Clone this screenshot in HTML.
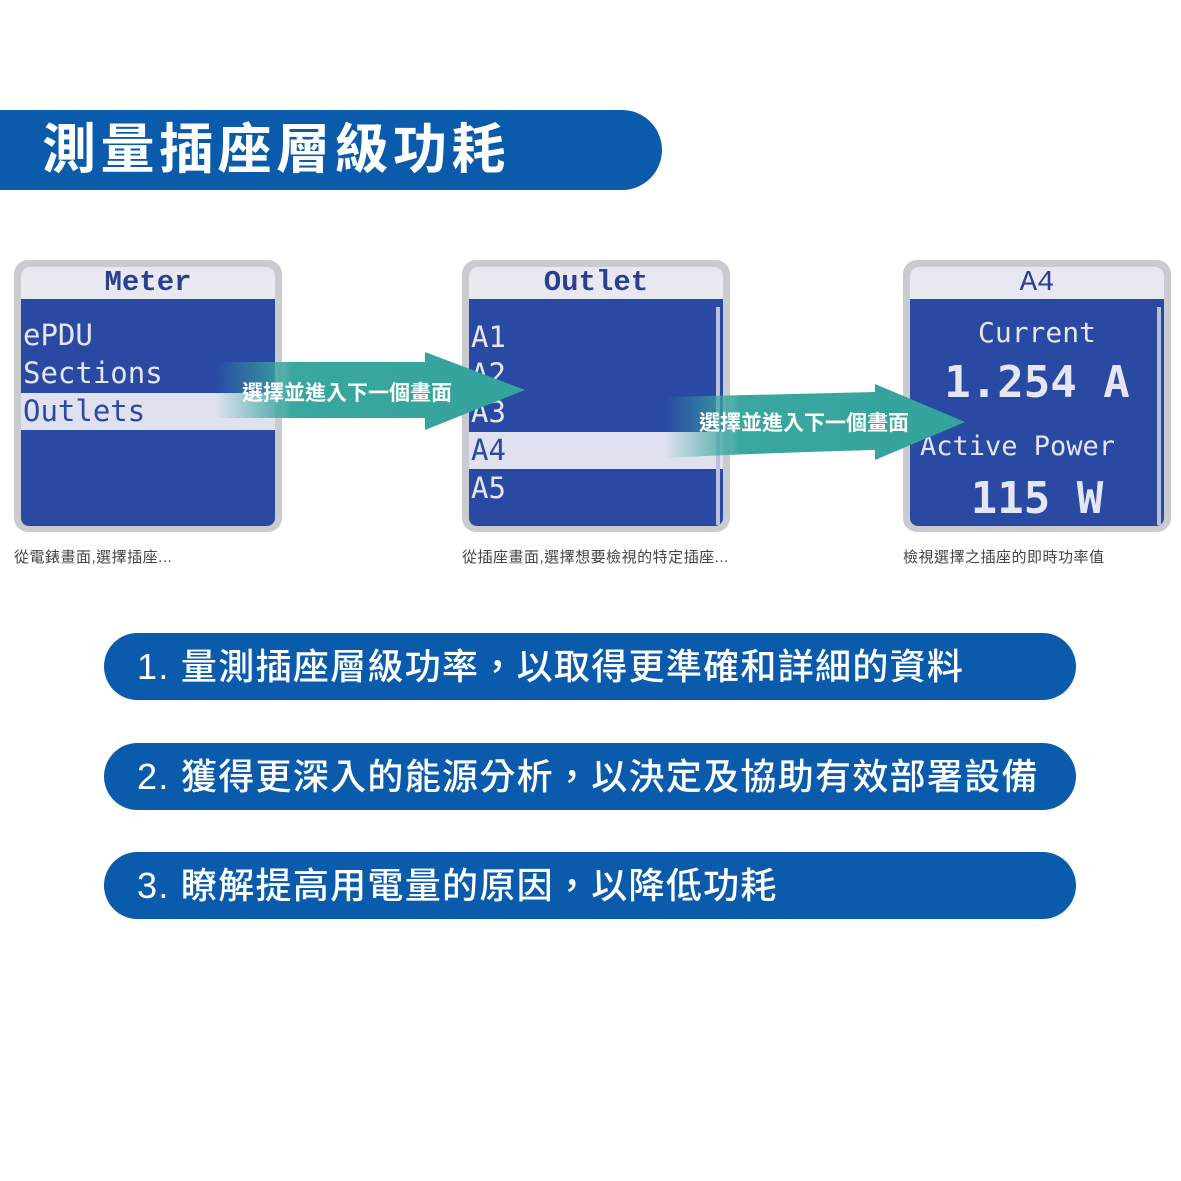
<!DOCTYPE html>
<html><head><meta charset="utf-8"><style>
*{margin:0;padding:0;box-sizing:border-box}
body{width:1181px;height:1181px;background:#fff;position:relative;overflow:hidden;font-family:"Liberation Sans","Noto Sans CJK TC",sans-serif}
.abs{position:absolute}
.title{left:0;top:110px;width:662px;height:80px;background:#0a5bab;border-radius:0 40px 40px 0;color:#fff;font-size:54px;font-weight:bold;line-height:80px;padding-left:42px;letter-spacing:4.5px}
.scr{position:absolute;width:268px;height:272px;top:260px;background:#c9cbd0;border-radius:14px}
.scr .in{position:absolute;left:7px;top:7px;right:7px;bottom:6px;background:#2a49a3;border-radius:8px;overflow:hidden}
.hd{position:absolute;left:0;right:0;top:0;height:32px;background:#e7e8f0;color:#2a3f8f;font-family:"Liberation Mono",monospace;font-weight:bold;font-size:29px;text-align:center;line-height:32px}
.t{position:absolute;font-family:"DejaVu Sans Mono","Liberation Mono",monospace;color:#e4e6f2;font-size:29px;line-height:36px}
.sel{position:absolute;left:0;right:0;background:#dfe1ee}
.cap{position:absolute;top:546px;font-size:15px;color:#444;letter-spacing:0.5px}
.pill{position:absolute;left:104px;width:972px;height:67px;background:#0a5bab;border-radius:34px;color:#fff;font-size:36px;line-height:67px;padding-left:33px;font-weight:500;letter-spacing:1.3px}
.arrtxt{position:absolute;color:#fff;font-weight:bold;font-size:21px}
</style></head><body>
<div class="abs title">測量插座層級功耗</div>

<div class="scr" style="left:14px"><div class="in">
<div class="hd">Meter</div>
<div class="sel" style="top:126px;height:37px"></div>
<div class="t" style="left:2px;top:50px">ePDU</div>
<div class="t" style="left:2px;top:88px">Sections</div>
<div class="t" style="left:2px;top:126px;color:#2a49a3">Outlets</div>
</div></div>

<div class="scr" style="left:462px"><div class="in">
<div class="hd">Outlet</div>
<div class="sel" style="top:165px;height:37px"></div>
<div class="abs" style="right:3px;top:40px;width:4px;height:218px;background:#b9bfdc"></div>
<div class="t" style="left:2px;top:52px">A1</div>
<div class="t" style="left:2px;top:89px">A2</div>
<div class="t" style="left:2px;top:127px">A3</div>
<div class="t" style="left:2px;top:165px;color:#2a49a3">A4</div>
<div class="t" style="left:2px;top:203px">A5</div>
</div></div>

<div class="scr" style="left:903px"><div class="in">
<div class="hd" style="font-weight:normal">A4</div>
<div class="abs" style="right:3px;top:40px;width:4px;height:218px;background:#b9bfdc"></div>
<div class="t" style="left:0;right:0;text-align:center;top:48px;font-size:28px">Current</div>
<div class="t" style="left:0;right:0;text-align:center;top:98px;font-size:44px;font-weight:bold">1.254 A</div>
<div class="t" style="left:10px;top:162px;font-size:27px">Active Power</div>
<div class="t" style="left:0;right:0;text-align:center;top:214px;font-size:44px;font-weight:bold">115 W</div>
</div></div>

<svg class="abs" style="left:0;top:0" width="1181" height="600">
<defs>
<linearGradient id="g1" x1="0" x2="1"><stop offset="0" stop-color="#3aa79f" stop-opacity="0"/><stop offset="0.25" stop-color="#3aa79f"/><stop offset="1" stop-color="#34a39c"/></linearGradient>
</defs>
<path d="M215 362 L425 362 L425 352 L525 390 L425 430 L425 418 L215 418 Z" fill="url(#g1)"/>
<path d="M665 397 L875 392 L875 384 L965 422 L875 460 L875 450 C800 452 720 455 665 458 Z" fill="url(#g1)"/>
</svg>
<div class="arrtxt" style="left:242px;top:377px">選擇並進入下一個畫面</div>
<div class="arrtxt" style="left:699px;top:407px">選擇並進入下一個畫面</div>

<div class="cap" style="left:14px">從電錶畫面,選擇插座...</div>
<div class="cap" style="left:462px">從插座畫面,選擇想要檢視的特定插座...</div>
<div class="cap" style="left:903px">檢視選擇之插座的即時功率值</div>

<div class="pill" style="top:633px">1. 量測插座層級功率，以取得更準確和詳細的資料</div>
<div class="pill" style="top:743px">2. 獲得更深入的能源分析，以決定及協助有效部署設備</div>
<div class="pill" style="top:852px">3. 瞭解提高用電量的原因，以降低功耗</div>
</body></html>
